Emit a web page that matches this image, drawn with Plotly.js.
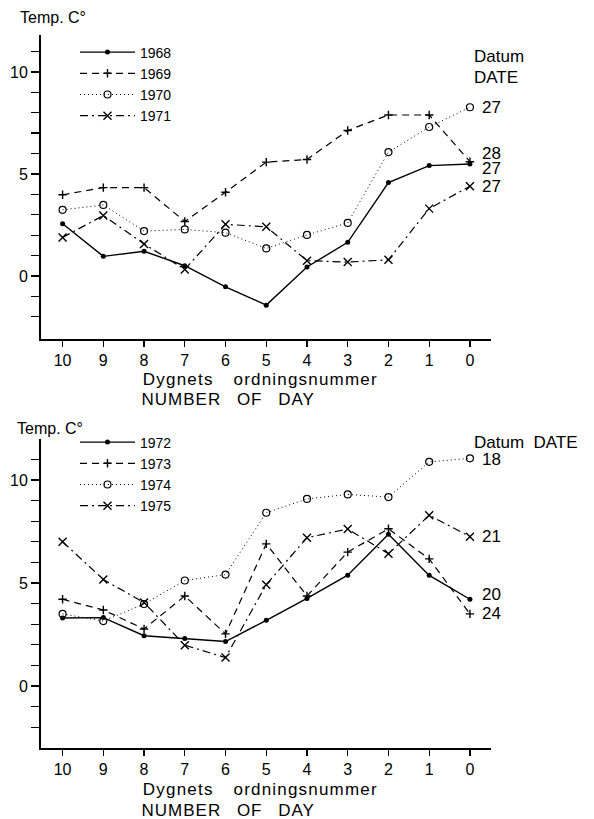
<!DOCTYPE html>
<html>
<head>
<meta charset="utf-8">
<script src="https://cdn.plot.ly/plotly-3.0.1.min.js"></script>
<style>
html,body{margin:0;padding:0;background:#fff;}
#chart{width:594px;height:819px;}
</style>
</head>
<body>
<div id="chart"></div>
<script>
// ---- data ----
const days = [10, 9, 8, 7, 6, 5, 4, 3, 2, 1, 0];
const dayTicks = [10, 9, 8, 7, 6, 5, 4, 3, 2, 1, 0];
const tempTicks = [-2, -1, 0, 1, 2, 3, 4, 5, 6, 7, 8, 9, 10, 11];
const tempLabels = ['', '', '0', '', '', '', '', '5', '', '', '', '', '10', ''];

const yearsTop = ['1968', '1969', '1970', '1971'];
const t1968 = [2.56, 0.96, 1.21, 0.50, -0.53, -1.43, 0.44, 1.65, 4.58, 5.41, 5.49];
const t1969 = [3.98, 4.33, 4.33, 2.67, 4.10, 5.58, 5.71, 7.13, 7.89, 7.89, 5.60];
const t1970 = [3.24, 3.48, 2.20, 2.28, 2.12, 1.35, 2.01, 2.60, 6.07, 7.30, 8.27];
const t1971 = [1.89, 2.96, 1.57, 0.32, 2.53, 2.41, 0.75, 0.68, 0.79, 3.30, 4.40];
const datesTop = ['27', '28', '27', '27'];

const yearsBottom = ['1972', '1973', '1974', '1975'];
const t1972 = [3.30, 3.32, 2.44, 2.30, 2.16, 3.19, 4.25, 5.38, 7.37, 5.37, 4.21];
const t1973 = [4.21, 3.69, 2.77, 4.37, 2.53, 6.90, 4.37, 6.50, 7.63, 6.17, 3.50];
const t1974 = [3.50, 3.15, 3.98, 5.12, 5.41, 8.41, 9.08, 9.30, 9.17, 10.88, 11.05];
const t1975 = [7.00, 5.17, 4.05, 1.98, 1.38, 4.92, 7.20, 7.62, 6.42, 8.29, 7.25];
const datesBottom = ['20', '24', '18', '21'];

const xTitle1 = 'Dygnets ordningsnummer';
const xTitle2 = 'NUMBER OF DAY';
const yTitle = 'Temp. C°';

// ---- styles ----
const FONT = 'Liberation Sans, Arial, sans-serif';
const W = 594, H = 819;
const px = v => v / W;
const py = v => 1 - v / H;
const styles = [
  {dash: 'solid', marker: {symbol: 'circle', size: 5, color: '#000'}},
  {dash: '7px,5px', marker: {symbol: 'cross-thin', size: 6, color: '#000', line: {width: 1.4, color: '#000'}}},
  {dash: '1px,3px', marker: {symbol: 'circle-open', size: 7, color: '#000', line: {width: 1.2, color: '#000'}}},
  {dash: '8px,4px,2px,4px', marker: {symbol: 'x-thin', size: 8, color: '#000', line: {width: 1.4, color: '#000'}}}
];
const lineWidths = [1.4, 1.2, 1.0, 1.2];

function mk(ys, name, i, xa, ya, leg) {
  return {
    x: days, y: ys, name: name, type: 'scatter', mode: 'lines+markers',
    xaxis: xa, yaxis: ya, legend: leg, cliponaxis: false,
    line: {color: '#000', width: lineWidths[i], dash: styles[i].dash},
    marker: styles[i].marker
  };
}
const topSeries = [t1968, t1969, t1970, t1971];
const botSeries = [t1972, t1973, t1974, t1975];
const traces = [];
topSeries.forEach((s, i) => traces.push(mk(s, yearsTop[i], i, 'x', 'y', 'legend')));
botSeries.forEach((s, i) => traces.push(mk(s, yearsBottom[i], i, 'x2', 'y2', 'legend2')));

const tickFont = {family: FONT, size: 16, color: '#000'};
function xax(anchor) {
  return {
    domain: [px(41), px(490.7)], range: [10.53, -0.51], anchor: anchor,
    tickvals: dayTicks, ticktext: dayTicks.map(String),
    ticks: 'outside', ticklen: 6, tickwidth: 1.3, tickcolor: '#000',
    showline: true, linewidth: 2, linecolor: '#000',
    showgrid: false, zeroline: false, tickfont: tickFont, fixedrange: true
  };
}
function yax(anchor, dom, rng) {
  return {
    domain: dom, range: rng, anchor: anchor,
    tickvals: tempTicks, ticktext: tempLabels,
    ticks: 'outside', ticklen: 8, tickwidth: 1.3, tickcolor: '#000',
    showline: true, linewidth: 2, linecolor: '#000',
    showgrid: false, zeroline: false, tickfont: tickFont, fixedrange: true
  };
}

const annFont = {family: FONT, size: 16, color: '#000'};
const dateFont = {family: FONT, size: 17, color: '#000'};
const titleFont = {family: FONT, size: 17, color: '#000'};
const ann = [];
function addText(text, x, y, extra) {
  ann.push(Object.assign({text: text, xref: 'paper', yref: 'paper', x: px(x), y: py(y),
    xanchor: 'left', yanchor: 'middle', showarrow: false, font: annFont}, extra || {}));
}
addText(yTitle, 18, 17);
addText(yTitle, 15, 428);
addText(xTitle1, 260, 379, {xanchor: 'center', font: titleFont});
addText(xTitle2, 228, 399, {xanchor: 'center', font: titleFont});
addText(xTitle1, 260, 789, {xanchor: 'center', font: titleFont});
addText(xTitle2, 228, 810, {xanchor: 'center', font: titleFont});
addText('Datum', 472, 57, {font: dateFont});
addText('DATE', 472, 77, {font: dateFont});
addText('Datum  DATE', 472, 442, {font: dateFont});

const topShift = [-5, 8, 0, 0];
const botShift = [5, 0, -1, 0];
topSeries.forEach((s, i) => ann.push({text: datesTop[i], xref: 'x', yref: 'y', x: days[days.length - 1],
  y: s[s.length - 1], xanchor: 'left', yanchor: 'middle', xshift: 10, yshift: topShift[i],
  showarrow: false, font: dateFont}));
botSeries.forEach((s, i) => ann.push({text: datesBottom[i], xref: 'x2', yref: 'y2', x: days[days.length - 1],
  y: s[s.length - 1], xanchor: 'left', yanchor: 'middle', xshift: 10, yshift: botShift[i],
  showarrow: false, font: dateFont}));

const legFont = {family: FONT, size: 14, color: '#000'};
const layout = {
  width: W, height: H, margin: {l: 0, r: 0, t: 0, b: 0},
  paper_bgcolor: '#fff', plot_bgcolor: 'rgba(0,0,0,0)',
  font: {family: FONT, color: '#000'},
  showlegend: true,
  xaxis: xax('y'),
  yaxis: yax('x', [py(339), py(35)], [-3.09, 11.81]),
  xaxis2: xax('y2'),
  yaxis2: yax('x2', [py(748), py(439)], [-3.01, 11.99]),
  legend: {x: px(75), y: py(36.5), xanchor: 'left', yanchor: 'top', bgcolor: 'rgba(0,0,0,0)',
    borderwidth: 0, itemwidth: 55, font: legFont, tracegroupgap: 0},
  legend2: {x: px(75), y: py(426.5), xanchor: 'left', yanchor: 'top', bgcolor: 'rgba(0,0,0,0)',
    borderwidth: 0, itemwidth: 55, font: legFont, tracegroupgap: 0},
  annotations: ann
};

Plotly.newPlot('chart', traces, layout, {displayModeBar: false, staticPlot: true}).then(() => {
  document.querySelectorAll('.annotation-text').forEach(el => {
    const t = el.textContent;
    if (t === xTitle1) {
      el.style.letterSpacing = '1.2px';
      el.style.wordSpacing = '14px';
    } else if (t === xTitle2) {
      el.style.letterSpacing = '1px';
      el.style.wordSpacing = '10px';
    }
  });
});
</script>
</body>
</html>
